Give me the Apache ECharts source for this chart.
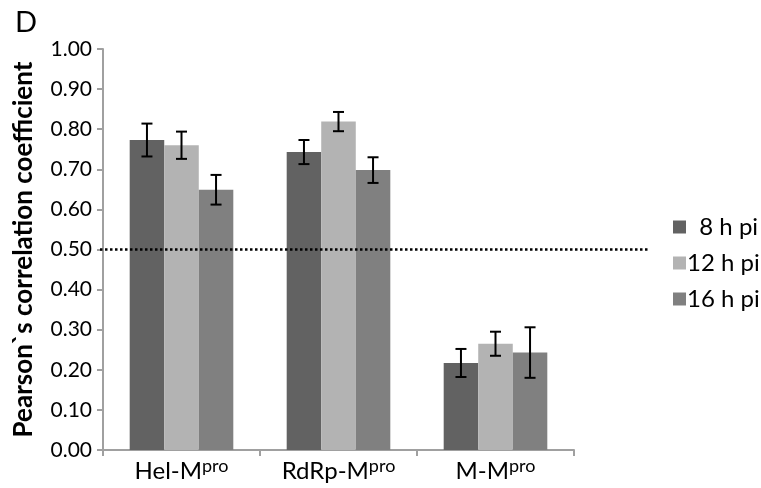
<!DOCTYPE html>
<html>
<head>
<meta charset="utf-8">
<script src="https://cdn.jsdelivr.net/npm/echarts@6/dist/echarts.min.js"></script>
<style>html,body{margin:0;padding:0;background:#fff}#c{width:761px;height:488px}</style>
</head>
<body>
<div id="c"></div>
<script>
var categories = ['Hel', 'RdRp', 'M'];
var seriesNames = ['8 h pi', '12 h pi', '16 h pi'];
var values8 = [0.773, 0.743, 0.217];
var values12 = [0.760, 0.819, 0.265];
var values16 = [0.649, 0.698, 0.243];
var err8 = [0.041, 0.030, 0.035];
var err12 = [0.034, 0.024, 0.030];
var err16 = [0.037, 0.032, 0.063];
var threshold = 0.5;

var FONT = 'Lato';
var colors = ['#626262', '#b3b3b3', '#808080'];
var allVals = [values8, values12, values16];
var allErr = [err8, err12, err16];
var GAP = 0.34;

function errSeries(idx) {
  var data = categories.map(function (c, i) {
    return [i, allVals[idx][i] - allErr[idx][i], allVals[idx][i] + allErr[idx][i]];
  });
  return {
    type: 'custom',
    name: seriesNames[idx] + ' err',
    data: data,
    z: 5,
    silent: true,
    encode: { x: 0, y: [1, 2] },
    renderItem: function (params, api) {
      var band = api.size([1, 0])[0];
      var bw = band * (1 - GAP) / 3;
      var off = (idx - 1) * bw;
      var lo = api.coord([api.value(0), api.value(1)]);
      var hi = api.coord([api.value(0), api.value(2)]);
      var x = lo[0] + off;
      var cap = 5.5;
      var st = { stroke: '#000', lineWidth: 2 };
      return {
        type: 'group',
        children: [
          { type: 'line', shape: { x1: x, y1: lo[1], x2: x, y2: hi[1] }, style: st },
          { type: 'line', shape: { x1: x - cap, y1: lo[1], x2: x + cap, y2: lo[1] }, style: st },
          { type: 'line', shape: { x1: x - cap, y1: hi[1], x2: x + cap, y2: hi[1] }, style: st }
        ]
      };
    }
  };
}

var chart = echarts.init(document.getElementById('c'));
var series = [];
for (var k = 0; k < 3; k++) {
  series.push({
    type: 'bar',
    name: seriesNames[k],
    data: allVals[k],
    barGap: '0%',
    barCategoryGap: (GAP * 100) + '%',
    itemStyle: { color: colors[k] },
    silent: true
  });
}
for (var k2 = 0; k2 < 3; k2++) series.push(errSeries(k2));

chart.setOption({
  animation: false,
  title: {
    text: 'D', left: 10, top: 3,
    textStyle: { fontFamily: FONT, fontSize: 29, fontWeight: 'normal', color: '#000' }
  },
  legend: {
    data: seriesNames,
    orient: 'vertical',
    left: 668, top: 210,
    itemWidth: 13, itemHeight: 13, itemGap: 12,
    icon: 'rect',
    formatter: function (n) { return n === '8 h pi' ? '  ' + n : n; },
    textStyle: { fontFamily: FONT, fontSize: 24, color: '#000', padding: [0, 0, 0, -4] }
  },
  grid: { left: 103, right: 187, top: 49, bottom: 38 },
  xAxis: {
    type: 'category',
    data: categories,
    axisLine: { lineStyle: { color: '#a0a0a0', width: 2 } },
    axisTick: { show: true, length: 6, lineStyle: { color: '#a0a0a0', width: 2 } },
    axisLabel: {
      margin: 7,
      formatter: function (v) { return '{m|' + v + '-M}{s|pro}'; },
      rich: {
        m: { fontFamily: FONT, fontSize: 24, color: '#000', verticalAlign: 'bottom', lineHeight: 26 },
        s: { fontFamily: FONT, fontSize: 18, color: '#000', verticalAlign: 'top', padding: [0, 0, 7, 0], lineHeight: 26 }
      }
    }
  },
  yAxis: {
    type: 'value',
    min: 0, max: 1, interval: 0.1,
    name: 'Pearson`s correlation coefficient',
    nameLocation: 'middle',
    nameGap: 66,
    nameTextStyle: { fontFamily: FONT, fontSize: 26, fontWeight: 'bold', color: '#000' },
    axisLine: { show: true, lineStyle: { color: '#a0a0a0', width: 2 } },
    axisTick: { show: true, length: 6, lineStyle: { color: '#a0a0a0', width: 2 } },
    splitLine: { show: false },
    axisLabel: {
      margin: 11,
      fontFamily: FONT, fontSize: 21, color: '#000',
      formatter: function (v) { return v.toFixed(2); }
    }
  },
  series: series
});

var yPix = chart.convertToPixel({ yAxisIndex: 0 }, threshold);
chart.setOption({
  graphic: [{
    type: 'line', z: 10, silent: true,
    shape: { x1: 100, y1: yPix, x2: 650, y2: yPix },
    style: { stroke: '#000', lineWidth: 2.5, lineDash: [2.5, 2.5] }
  }]
});
</script>
</body>
</html>
